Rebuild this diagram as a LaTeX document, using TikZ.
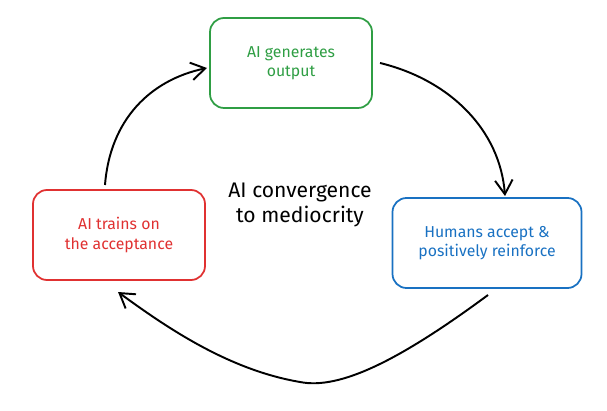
\documentclass[tikz,border=0pt]{standalone}
\usepackage{fontspec}
\setmainfont{Fira Sans}
\usetikzlibrary{arrows.meta}
\definecolor{exgreen}{RGB}{47,158,68}
\definecolor{exred}{RGB}{224,49,49}
\definecolor{exblue}{RGB}{25,113,194}
\begin{document}
\begin{tikzpicture}[x=0.02cm,y=-0.02cm,
  box/.style={draw,line width=1pt,rounded corners=8pt,align=center,font=\small,inner sep=0pt},
  flow/.style={line width=1.1pt,-{Straight Barb[length=8pt,width=10pt]}}]
\useasboundingbox (0,0) rectangle (607,411);
\node[box,exgreen,minimum width=162*0.02cm,minimum height=90*0.02cm] (gen) at (291,63) {AI generates\\output};
\node[box,exred,minimum width=172*0.02cm,minimum height=90*0.02cm] (train) at (119,235) {AI trains on\\the acceptance};
\node[box,exblue,minimum width=189*0.02cm,minimum height=90*0.02cm] (accept) at (487,243) {Humans accept \&\\positively reinforce};
\node[align=center,font=\large] (mid) at (300,205) {AI convergence\\to mediocrity};
\coordinate (a1) at (105,185);
\coordinate (a2) at (207,68);
\coordinate (b1) at (380,63);
\coordinate (b2) at (505,196);
\coordinate (c1) at (488,295);
\coordinate (c2) at (118,292);
\draw[flow] (a1) .. controls (110,120) and (150,80) .. (a2);
\draw[flow] (b1) .. controls (450,80) and (500,130) .. (b2);
\draw[flow] (c1) .. controls (400,360) and (340,390) .. (300,382) .. controls (230,370) and (170,330) .. (c2);
\end{tikzpicture}
\end{document}
